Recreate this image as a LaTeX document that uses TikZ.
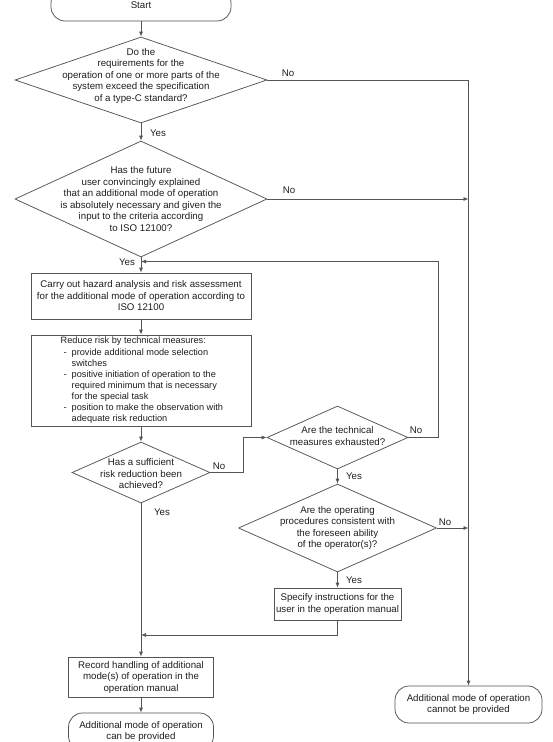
\documentclass[tikz,border=0pt]{standalone}
\usepackage{fontspec}
\setmainfont{Liberation Sans}
\usetikzlibrary{shapes.geometric,arrows.meta,calc}
\definecolor{linec}{gray}{0.33}
\definecolor{txtc}{gray}{0.12}
\newcommand{\mainf}{\fontsize{9.7}{11.5}\selectfont}
\newcommand{\boxf}{\fontsize{9.2}{11.15}\selectfont}
\newcommand{\bxitem}{\makebox[11pt][l]{\hspace{3pt}-}}
\newcommand{\bxind}{\hspace*{11pt}}
\tikzset{
  base/.style={draw=linec, line width=0.75pt, text=txtc, font=\mainf},
  proc/.style={base, rectangle, inner sep=0pt, align=center},
  term/.style={base, rectangle, rounded corners=14pt, inner sep=0pt, align=center},
  dec/.style={base, diamond, inner sep=0pt},
  txt/.style={text=txtc, font=\mainf, align=center, inner sep=0pt},
  lab/.style={text=txtc, font=\mainf, inner sep=0pt},
  conn/.style={draw=linec, line width=0.75pt, -{Latex[length=5pt,width=4pt]}},
}
\begin{document}
\begin{tikzpicture}[x=1pt,y=-1pt]
\useasboundingbox (0,0) rectangle (553,742);
\clip (0,0) rectangle (553,742);
\fill[white] (0,0) rectangle (553,742);

% nodes
\node[term, minimum width=180pt, minimum height=32pt] (start) at (141,5) {Start};
\node[dec, minimum width=252pt, minimum height=86pt] (d1) at (141,80) {};
\node[txt] at (141,75.5) {Do the\\requirements for the\\operation of one or more parts of the\\system exceed the specification\\of a type-C standard?};
\node[dec, minimum width=252pt, minimum height=116pt] (d2) at (141,199) {};
\node[txt] at (141,199) {Has the future\\user convincingly explained\\that an additional mode of operation\\is absolutely necessary and given the\\input to the criteria according\\to ISO 12100?};
\node[proc, minimum width=220pt, minimum height=46pt] (b1) at (141,296) {Carry out hazard analysis and risk assessment\\for the additional mode of operation according to\\ISO 12100};
\node[proc, minimum width=220pt, minimum height=91pt] (b2) at (141,380.5) {};
\node[txt, align=left, anchor=west, font=\boxf] at (60.5,380.5) {Reduce risk by technical measures:\\
\bxitem provide additional mode selection\\
\bxind switches\\
\bxitem positive initiation of operation to the\\
\bxind required minimum that is necessary\\
\bxind for the special task\\
\bxitem position to make the observation with\\
\bxind adequate risk reduction};
\node[dec, minimum width=138pt, minimum height=61pt] (d3) at (141,472.5) {};
\node[txt] at (141,474) {Has a sufficient\\risk reduction been\\achieved?};
\node[dec, minimum width=141pt, minimum height=63pt] (d4) at (337.5,437.5) {};
\node[txt] at (337.5,436) {Are the technical\\measures exhausted?};
\node[dec, minimum width=198pt, minimum height=88pt] (d5) at (337.5,528) {};
\node[txt] at (337.5,528) {Are the operating\\procedures consistent with\\the foreseen ability\\of the operator(s)?};
\node[proc, minimum width=127pt, minimum height=32pt] (b3) at (337.5,604) {Specify instructions for the\\user in the operation manual};
\node[proc, minimum width=145pt, minimum height=40pt] (b4) at (141,677) {Record handling of additional\\mode(s) of operation in the\\operation manual};
\node[term, minimum width=145pt, minimum height=37pt] (e1) at (141,731.5) {Additional mode of operation\\can be provided};
\node[term, minimum width=147pt, minimum height=37pt] (e2) at (468.5,704.5) {Additional mode of operation\\cannot be provided};

% helper coordinates
\coordinate (fbin) at (141,261.5);
\coordinate (fbc) at (438,261.5);
\coordinate (mrg) at (141,635);

% connectors
\draw[conn] (start) -- (d1);
\draw[conn] (d1) -- (d2);
\draw[conn] (d1.east) -- (d1.east -| e2.north) -- (e2.north);
\draw[conn] (d2.east) -- (d2.east -| e2.north);
\draw[conn] (d2) -- (b1);
\draw[conn] (d4.east) -| (fbc) -- (fbin);
\draw[conn] (b1) -- (b2);
\draw[conn] (b2) -- (d3);
\draw[conn] (d3.east) -- ++(33,0) |- (d4.west);
\draw[conn] (d3) -- (b4);
\draw[conn] (d4) -- (d5);
\draw[conn] (d5.east) -- (d5.east -| e2.north);
\draw[conn] (d5) -- (b3);
\draw[conn] (b3.south) |- (mrg);
\draw[conn] (b4) -- (e1);

% labels
\node[lab] at (158,133) {Yes};
\node[lab] at (288,73) {No};
\node[lab] at (289,190) {No};
\node[lab] at (127,262) {Yes};
\node[lab] at (219,466) {No};
\node[lab] at (162,512) {Yes};
\node[lab] at (416,430) {No};
\node[lab] at (354,476) {Yes};
\node[lab] at (445,522) {No};
\node[lab] at (354,580) {Yes};
\end{tikzpicture}
\end{document}
